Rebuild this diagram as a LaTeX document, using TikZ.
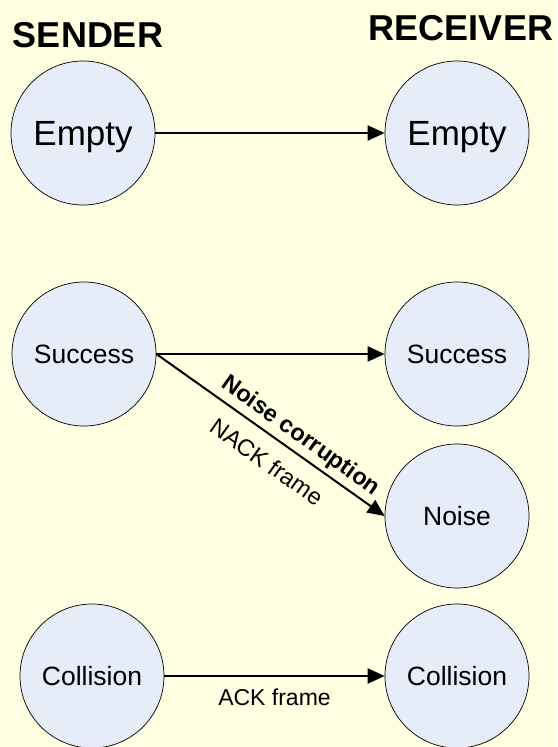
\documentclass[tikz,border=0pt]{standalone}
\usepackage{fontspec}
\setmainfont{Liberation Sans}
\usetikzlibrary{arrows.meta}

\definecolor{paper}{HTML}{FFFFE1}
\definecolor{bubble}{HTML}{E6ECF8}

\begin{document}
\begin{tikzpicture}[x=1pt, y=-1pt,
  state/.style = {circle, draw=black, line width=0.7pt, fill=bubble, minimum size=144pt, inner sep=0pt, text depth=0pt, font=\fontsize{#1}{#1}\selectfont},
  state/.default = 26.5,
  flow/.style = {line width=2pt, -{Triangle[length=17pt, width=15pt]}},
  side/.style = {font=\fontsize{36}{36}\selectfont\bfseries}]

\useasboundingbox[fill=paper] (0,0) rectangle (557,747);

% Titles
\node[side] (sender) at (88,35) {SENDER};
\node[side] (receiver) at (461,28) {RECEIVER};

% States
\node[state=35] (e1) at (83,133) {Empty};
\node[state=35] (e2) at (457,133) {Empty};
\node[state] (s1) at (84,354) {Success};
\node[state] (s2) at (457,354) {Success};
\node[state] (n) at (457,516) {Noise};
\node[state] (c1) at (92,676) {Collision};
\node[state] (c2) at (457,676) {Collision};

% Arrows
\draw[flow] (e1.east) -- (e2.west);
\draw[flow] (s1.east) -- (s2.west);
\draw[flow] (s1.east) -- (n.west)
  node[pos=0.59, sloped, above=1pt, font=\fontsize{23.5}{23.5}\selectfont\bfseries] {Noise corruption}
  node[pos=0.545, sloped, below=11pt, font=\fontsize{23.5}{23.5}\selectfont] {NACK frame};
\draw[flow] (c1.east) -- (c2.west)
  node[midway, below=9pt, font=\fontsize{23}{23}\selectfont] {ACK frame};

\end{tikzpicture}
\end{document}
